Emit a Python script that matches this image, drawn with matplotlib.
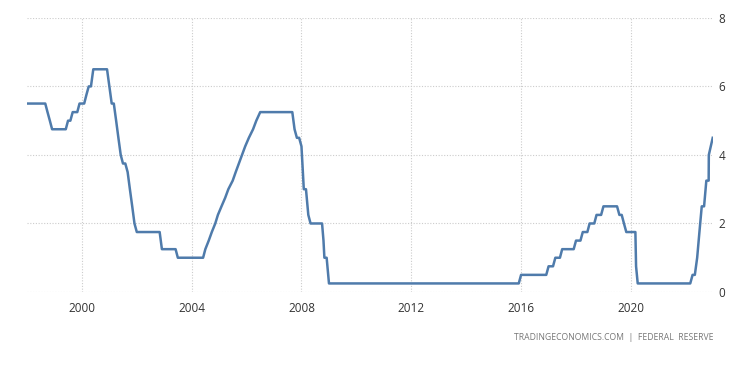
import pandas as pd
import matplotlib.pyplot as plt
import matplotlib.dates as mdates

# fed funds rate, breakpoints
dates = ["1998-01-01", "1998-09-01", "1998-10-01", "1998-11-01", "1998-12-01",
         "1999-06-01", "1999-07-01", "1999-08-01", "1999-09-01", "1999-11-01", "1999-12-01",
         "2000-02-01", "2000-03-01", "2000-04-01", "2000-05-01", "2000-06-01",
         "2000-12-01", "2001-01-01", "2001-02-01", "2001-03-01", "2001-04-01", "2001-05-01",
         "2001-06-01", "2001-07-01", "2001-08-01", "2001-09-01", "2001-10-01", "2001-11-01",
         "2001-12-01", "2002-01-01", "2002-11-01", "2002-12-01",
         "2003-06-01", "2003-07-01",
         "2004-06-01", "2004-07-01", "2004-08-15", "2004-09-25", "2004-11-10", "2004-12-15",
         "2005-02-01", "2005-03-22", "2005-05-03", "2005-06-30", "2005-08-09", "2005-09-20",
         "2005-11-01", "2005-12-13", "2006-01-31", "2006-03-28", "2006-05-10", "2006-07-01",
         "2007-09-01", "2007-10-01", "2007-11-01", "2007-12-01", "2008-01-01", "2008-02-01",
         "2008-03-01", "2008-04-01", "2008-05-01", "2008-10-01", "2008-10-20", "2008-11-01",
         "2008-12-01", "2009-01-01",
         "2015-12-01", "2016-01-01", "2016-12-01", "2017-01-01",
         "2017-03-01", "2017-04-01", "2017-06-01", "2017-07-01", "2017-12-01", "2018-01-01",
         "2018-03-01", "2018-04-01", "2018-06-01", "2018-07-01", "2018-09-01", "2018-10-01",
         "2018-12-01", "2019-01-01", "2019-07-01", "2019-08-01", "2019-09-01", "2019-10-01",
         "2019-11-01", "2020-03-01", "2020-03-10", "2020-04-01",
         "2022-03-01", "2022-04-01", "2022-05-01", "2022-06-01", "2022-07-01", "2022-08-01",
         "2022-09-01", "2022-10-01", "2022-11-01", "2022-11-03", "2022-12-25"]
rates = [5.5, 5.5, 5.25, 5.0, 4.75,
         4.75, 5.0, 5.0, 5.25, 5.25, 5.5,
         5.5, 5.75, 6.0, 6.0, 6.5,
         6.5, 6.0, 5.5, 5.5, 5.0, 4.5,
         4.0, 3.75, 3.75, 3.5, 3.0, 2.5,
         2.0, 1.75, 1.75, 1.25,
         1.25, 1.0,
         1.0, 1.25, 1.5, 1.75, 2.0, 2.25,
         2.5, 2.75, 3.0, 3.25, 3.5, 3.75,
         4.0, 4.25, 4.5, 4.75, 5.0, 5.25,
         5.25, 4.75, 4.5, 4.5, 4.25, 3.0,
         3.0, 2.25, 2.0, 2.0, 1.5, 1.0,
         1.0, 0.25,
         0.25, 0.5, 0.5, 0.75,
         0.75, 1.0, 1.0, 1.25, 1.25, 1.5,
         1.5, 1.75, 1.75, 2.0, 2.0, 2.25,
         2.25, 2.5, 2.5, 2.25, 2.25, 2.0,
         1.75, 1.75, 0.75, 0.25,
         0.25, 0.5, 0.5, 1.0, 1.75, 2.5,
         2.5, 3.25, 3.25, 4.0, 4.5]

xticks = ["2000", "2004", "2008", "2012", "2016", "2020"]
yticks = [0, 2, 4, 6, 8]

plt.rcParams['font.family'] = ['Open Sans', 'DejaVu Sans']

fig = plt.figure(figsize=(7.5, 3.65), dpi=100)
ax = fig.add_axes([0.036, 0.2, 0.915, 0.751])

ax.plot(pd.to_datetime(dates), rates, color="#4f7bab", linewidth=1.8, solid_joinstyle="round")

ax.set_xlim(pd.Timestamp("1998-01-01"), pd.Timestamp("2023-01-01"))
ax.set_ylim(0, 8)
ax.set_xticks([pd.Timestamp(y + "-01-01") for y in xticks])
ax.xaxis.set_major_formatter(mdates.DateFormatter("%Y"))
ax.set_yticks(yticks)
ax.yaxis.tick_right()

for s in ax.spines.values():
    s.set_visible(False)
ax.grid(True, linestyle=(0, (1, 1.5)), color="#cccccc", linewidth=0.8)
ax.tick_params(axis="both", length=0, labelsize=8.5, labelcolor="#333333")
ax.tick_params(axis="x", pad=7)
ax.tick_params(axis="y", pad=4)

fig.text(0.951, 0.075, "TRADINGECONOMICS.COM  |  FEDERAL  RESERVE", ha="right", va="center",
         fontsize=6.2, color="#777777")

fig.savefig("out.png", dpi=100)
